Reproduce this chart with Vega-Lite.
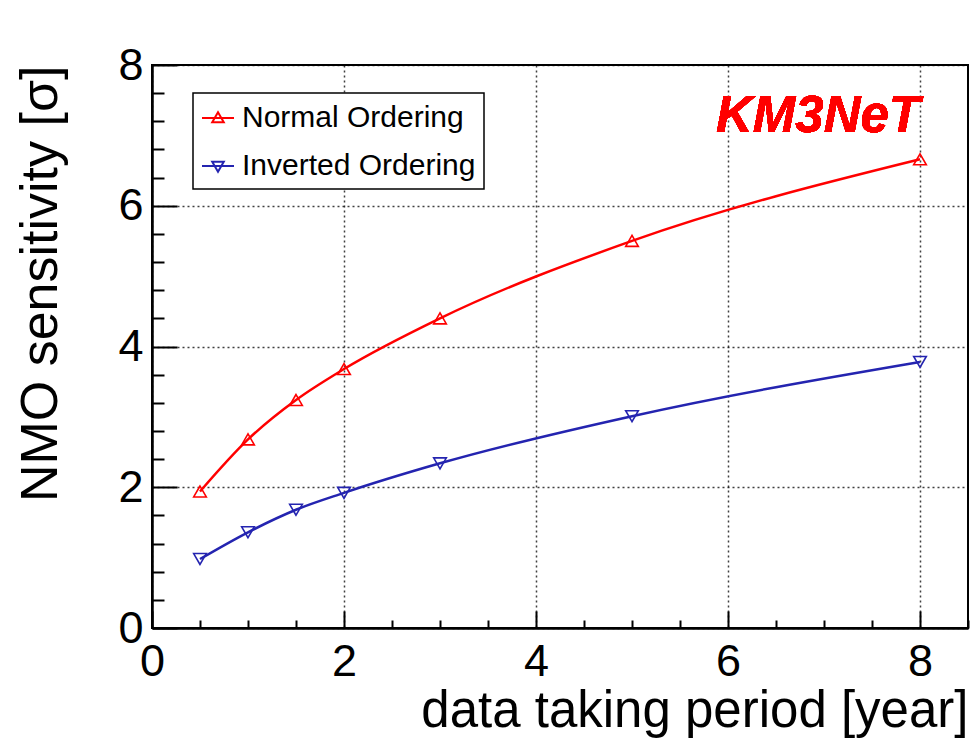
{
  "$schema": "https://vega.github.io/schema/vega-lite/v6.json",
  "width": 816,
  "height": 563,
  "autosize": {"type": "none"},
  "padding": {"left": 152, "top": 65, "right": 4, "bottom": 116},
  "background": "white",
  "config": {
    "view": {"stroke": "black", "strokeWidth": 2},
    "font": "Liberation Sans",
    "axis": {
      "labelFont": "Liberation Sans",
      "titleFont": "Liberation Sans",
      "labelColor": "black",
      "titleColor": "black",
      "tickColor": "black",
      "domainColor": "black",
      "labelFlush": false,
      "labelOverlap": false,
      "titleFontWeight": "normal"
    }
  },
  "data": {
    "values": [
      {"period": 0.5, "sens": 1.94, "ordering": "Normal Ordering"},
      {"period": 1.0, "sens": 2.68, "ordering": "Normal Ordering"},
      {"period": 1.5, "sens": 3.24, "ordering": "Normal Ordering"},
      {"period": 2.0, "sens": 3.68, "ordering": "Normal Ordering"},
      {"period": 3.0, "sens": 4.40, "ordering": "Normal Ordering"},
      {"period": 5.0, "sens": 5.50, "ordering": "Normal Ordering"},
      {"period": 8.0, "sens": 6.66, "ordering": "Normal Ordering"},
      {"period": 0.5, "sens": 0.98, "ordering": "Inverted Ordering"},
      {"period": 1.0, "sens": 1.36, "ordering": "Inverted Ordering"},
      {"period": 1.5, "sens": 1.68, "ordering": "Inverted Ordering"},
      {"period": 2.0, "sens": 1.92, "ordering": "Inverted Ordering"},
      {"period": 3.0, "sens": 2.34, "ordering": "Inverted Ordering"},
      {"period": 5.0, "sens": 3.01, "ordering": "Inverted Ordering"},
      {"period": 8.0, "sens": 3.78, "ordering": "Inverted Ordering"}
    ]
  },
  "resolve": {"axis": {"x": "independent", "y": "independent"}},
  "layer": [
    {
      "mark": {"type": "line", "interpolate": "monotone", "strokeWidth": 2.5},
      "encoding": {
        "x": {
          "field": "period", "type": "quantitative",
          "scale": {"domain": [0, 8.5], "nice": false, "zero": false},
          "axis": {
            "orient": "bottom",
            "values": [0, 2, 4, 6, 8],
            "format": "d",
            "grid": true, "gridColor": "black", "gridDash": [2, 3], "gridWidth": 1.5, "gridOpacity": 0.75,
            "domainWidth": 2.5,
            "tickSize": -17, "tickWidth": 2,
            "labelFontSize": 45, "labelPadding": 28,
            "title": "data taking period [year]",
            "titleFontSize": 51, "titleAnchor": "end", "titlePadding": 2
          }
        },
        "y": {
          "field": "sens", "type": "quantitative",
          "scale": {"domain": [0, 8], "nice": false, "zero": false},
          "axis": {
            "orient": "left",
            "values": [0, 2, 4, 6, 8],
            "format": "d",
            "grid": true, "gridColor": "black", "gridDash": [2, 3], "gridWidth": 1.5, "gridOpacity": 0.75,
            "domainWidth": 2.5,
            "tickSize": -25, "tickWidth": 2,
            "labelFontSize": 45, "labelPadding": 34,
            "title": "NMO sensitivity [σ]",
            "titleFontSize": 52, "titleAnchor": "end", "titlePadding": 50
          }
        },
        "color": {
          "field": "ordering", "type": "nominal",
          "scale": {"domain": ["Normal Ordering", "Inverted Ordering"], "range": ["#ff0000", "#2424b0"]},
          "legend": {
            "orient": "none", "legendX": 41, "legendY": 28,
            "title": null,
            "strokeColor": "black", "fillColor": "white",
            "padding": 8,
            "labelFont": "Liberation Sans", "labelFontSize": 30, "labelColor": "black",
            "labelLimit": 600,
            "labelOffset": 7, "rowPadding": 16,
            "symbolSize": 1024, "symbolStrokeWidth": 2,
            "encode": {
              "legend": {"update": {"strokeWidth": {"value": 1.5}}},
              "labels": {"update": {"text": {"signal": "datum.label + '\u00a0\u00a0\u00a0\u00a0'"}}},
              "symbols": {
                "update": {
                  "shape": {"signal": "datum.value === 'Normal Ordering' ? 'M-1,0H1M0,-0.36L0.36,0.26L-0.36,0.26Z' : 'M-1,0H1M0,0.36L0.36,-0.26L-0.36,-0.26Z'"},
                  "fill": {"value": "transparent"},
                  "strokeWidth": {"value": 2}
                }
              }
            }
          }
        }
      }
    },
    {
      "transform": [{"filter": "datum.ordering === 'Normal Ordering'"}],
      "mark": {"type": "point", "shape": "triangle-up", "filled": false, "size": 160, "strokeWidth": 1.6, "opacity": 1},
      "encoding": {
        "x": {
          "field": "period", "type": "quantitative",
          "axis": {
            "orient": "bottom",
            "values": [0.5, 1, 1.5, 2.5, 3, 3.5, 4.5, 5, 5.5, 6.5, 7, 7.5, 8.5],
            "labels": false, "grid": false, "domain": false, "title": null,
            "tickSize": -8, "tickWidth": 2
          }
        },
        "y": {
          "field": "sens", "type": "quantitative",
          "axis": {
            "orient": "left",
            "values": [0.4, 0.8, 1.2, 1.6, 2.4, 2.8, 3.2, 3.6, 4.4, 4.8, 5.2, 5.6, 6.4, 6.8, 7.2, 7.6],
            "labels": false, "grid": false, "domain": false, "title": null,
            "tickSize": -12, "tickWidth": 2
          }
        },
        "color": {"field": "ordering", "type": "nominal"}
      }
    },
    {
      "transform": [{"filter": "datum.ordering === 'Inverted Ordering'"}],
      "mark": {"type": "point", "shape": "triangle-down", "filled": false, "size": 160, "strokeWidth": 1.6, "opacity": 1},
      "encoding": {
        "x": {"field": "period", "type": "quantitative", "axis": null},
        "y": {"field": "sens", "type": "quantitative", "axis": null},
        "color": {"field": "ordering", "type": "nominal"}
      }
    },
    {
      "mark": {"type": "text", "text": "KM3NeT", "font": "Liberation Sans", "fontSize": 51, "fontWeight": "bold", "fontStyle": "italic", "color": "#ff0000", "align": "right", "baseline": "alphabetic"},
      "encoding": {
        "x": {"datum": 8.0, "type": "quantitative", "axis": null},
        "y": {"datum": 7.05, "type": "quantitative", "axis": null}
      }
    }
  ]
}
